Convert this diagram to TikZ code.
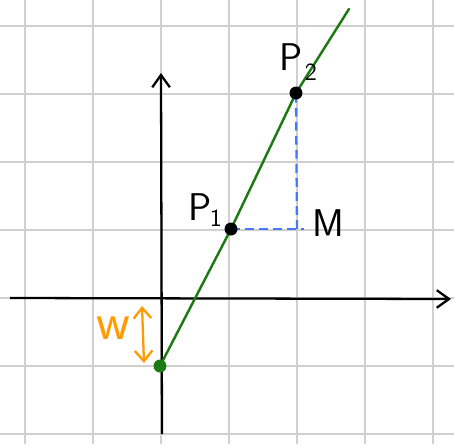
\documentclass[tikz,border=0pt]{standalone}
\usetikzlibrary{arrows.meta}
\definecolor{gridgray}{RGB}{208,208,208}
\definecolor{lngreen}{RGB}{28,122,20}
\definecolor{dashblue}{RGB}{70,120,255}
\definecolor{worange}{RGB}{255,154,0}
\begin{document}
\begin{tikzpicture}[x=0.02cm,y=-0.02cm,
  gridline/.style={draw=gridgray, line width=1.1pt},
  axis/.style={draw=black, line width=1.3pt, -{Straight Barb[length=7pt,width=10pt,line width=1.3pt]}},
  greenline/.style={draw=lngreen, line width=1.4pt, line cap=round},
  bluedash/.style={draw=dashblue, line width=1.3pt, dash pattern=on 5pt off 3pt},
  warrow/.style={draw=worange, line width=1.3pt, {Straight Barb[length=6pt,width=10pt,line width=1.3pt]}-{Straight Barb[length=6pt,width=10pt,line width=1.3pt]}},
  dot/.style={circle, fill=#1, inner sep=0pt, minimum size=0.26cm},
  dot/.default=black,
  lbl/.style={font=\sffamily\fontsize{22}{24}\selectfont, inner sep=0pt},
  sub/.style={font=\sffamily\fontsize{14}{16}\selectfont, inner sep=0pt}]
\useasboundingbox (0,0) rectangle (454,444);
% grid
\foreach \g in {25,93,161,229,297,365,433} {\draw[gridline] (\g,0) -- (\g,444);}
\foreach \g in {26,94,162,230,298,366,434} {\draw[gridline] (0,\g) -- (454,\g);}
% axes
\coordinate (xs) at (10,298);
\coordinate (xe) at (451,299);
\coordinate (ys) at (162,434);
\coordinate (ye) at (161,73);
\draw[axis] (xs) -- (xe);
\draw[axis] (ys) -- (ye);
% points
\coordinate (A) at (160,366);
\coordinate (P1) at (231,229);
\coordinate (P2) at (296,93);
\coordinate (G) at (349,9);
\coordinate (M) at (297,229);
\coordinate (Mx) at (304,229);
% lines
\draw[bluedash] (P1) -- (Mx);
\draw[bluedash] (M) -- (P2);
\draw[greenline] (A) -- (P1) -- (P2) -- (G);
\node[dot] (P1d) at (P1) {};
\node[dot] (P2d) at (P2) {};
\node[dot=lngreen] (Ad) at (A) {};
% w arrow
\coordinate (wt) at (142,306);
\coordinate (wb) at (144,363);
\draw[warrow] (wt) -- (wb);
% labels
\node[lbl] (L1) at (200,207) {P};
\node[sub] (L1s) at (216,218) {1};
\node[lbl] (L2) at (291,57) {P};
\node[sub] (L2s) at (311,72) {2};
\node[lbl] (LM) at (328,223) {M};
\node[lbl, text=worange, font=\sffamily\fontsize{30}{32}\selectfont] (Lw) at (113,328) {w};
\end{tikzpicture}
\end{document}
